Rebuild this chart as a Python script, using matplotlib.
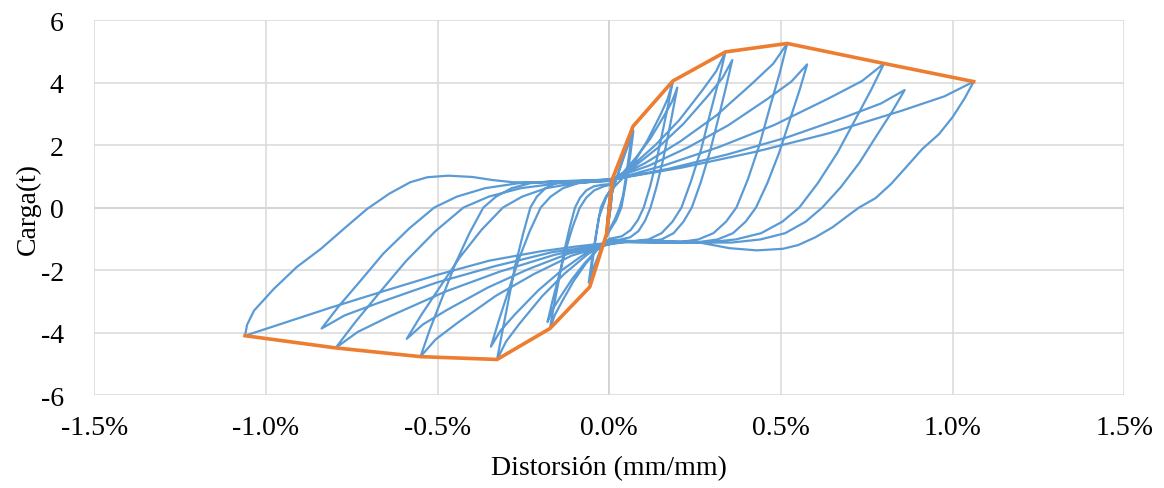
import numpy as np
import matplotlib.pyplot as plt
from matplotlib.ticker import FuncFormatter

plt.rcParams['font.family'] = ['Liberation Serif', 'DejaVu Serif']
plt.rcParams['axes.unicode_minus'] = False

# --- datos: (distorsion %, carga t) ---
ciclo_01 = [(0.0, 0.0), (0.005, 0.5), (0.012, 0.95), (0.008, 0.5), (0.004, 0.0), (0.0, -0.3),
            (-0.004, -0.6), (-0.008, -0.85), (-0.005, -0.4), (-0.002, 0.0), (0.0, 0.3)]
ciclo_02 = [(0.006, 0.6), (0.012, 0.9), (0.007, 0.4), (0.003, 0.0), (-0.003, -0.5), (-0.009, -0.8),
            (-0.005, -0.3), (0.0, 0.2)]
ciclo_03 = [(0.02, 0.9), (0.04, 1.6), (0.055, 2.1), (0.069, 2.6), (0.06, 1.9), (0.05, 1.1), (0.04, 0.4),
            (0.03, 0.0), (0.015, -0.4), (0.0, -0.7), (-0.02, -1.2), (-0.04, -1.9), (-0.057, -2.54),
            (-0.05, -1.8), (-0.04, -1.0), (-0.03, -0.3), (-0.02, 0.0), (-0.01, 0.3), (0.0, 0.5)]
ciclo_04 = [(0.02, 0.9), (0.045, 1.7), (0.07, 2.45), (0.06, 1.6), (0.045, 0.6), (0.035, 0.0), (0.02, -0.4),
            (0.0, -0.75), (-0.02, -1.2), (-0.045, -1.9), (-0.06, -2.4), (-0.05, -1.6), (-0.035, -0.6),
            (-0.025, 0.0), (-0.01, 0.35), (0.0, 0.5)]
ciclo_05 = [(0.037, 0.92), (0.074, 1.48), (0.111, 2.15), (0.148, 2.95), (0.17, 3.48), (0.185, 4.05),
            (0.172, 3.32), (0.155, 2.43), (0.138, 1.54), (0.119, 0.69), (0.1, 0.0), (0.083, -0.4),
            (0.062, -0.72), (0.036, -0.92), (0.0, -1.0),
            (-0.035, -1.34), (-0.069, -1.8), (-0.104, -2.35), (-0.138, -3.01), (-0.159, -3.44), (-0.173, -3.87),
            (-0.162, -3.17), (-0.147, -2.32), (-0.133, -1.47), (-0.116, -0.66), (-0.1, 0.0), (-0.085, 0.32),
            (-0.067, 0.55), (-0.045, 0.68), (-0.02, 0.73), (0.0, 0.75)]
ciclo_06 = [(0.04, 1.12), (0.079, 1.62), (0.119, 2.2), (0.158, 2.91), (0.182, 3.38), (0.198, 3.84),
            (0.186, 3.15), (0.171, 2.3), (0.155, 1.46), (0.137, 0.65), (0.12, 0.0), (0.104, -0.42),
            (0.085, -0.75), (0.061, -0.95), (0.03, -1.03), (0.0, -1.05),
            (-0.036, -1.36), (-0.072, -1.78), (-0.108, -2.28), (-0.144, -2.88), (-0.166, -3.27), (-0.18, -3.66),
            (-0.166, -3.0), (-0.147, -2.2), (-0.128, -1.39), (-0.107, -0.62), (-0.086, 0.0), (-0.067, 0.32),
            (-0.044, 0.55), (-0.016, 0.68), (0.0, 0.72)]
ciclo_07 = [(0.068, 1.35), (0.135, 2.01), (0.203, 2.79), (0.27, 3.74), (0.311, 4.36), (0.338, 4.98),
            (0.319, 4.08), (0.293, 2.99), (0.268, 1.89), (0.238, 0.85), (0.21, 0.0), (0.184, -0.45),
            (0.152, -0.82), (0.114, -1.02), (0.069, -1.08), (0.0, -1.05),
            (-0.065, -1.51), (-0.131, -2.12), (-0.196, -2.84), (-0.262, -3.72), (-0.301, -4.29), (-0.327, -4.86),
            (-0.312, -3.99), (-0.293, -2.92), (-0.274, -1.85), (-0.251, -0.83), (-0.23, 0.0), (-0.211, 0.35),
            (-0.186, 0.62), (-0.157, 0.78), (-0.123, 0.84), (-0.06, 0.85), (0.0, 0.85)]
ciclo_08 = [(0.072, 1.31), (0.143, 1.93), (0.215, 2.67), (0.286, 3.56), (0.329, 4.14), (0.358, 4.72),
            (0.34, 3.87), (0.317, 2.83), (0.293, 1.79), (0.266, 0.8), (0.24, 0.0), (0.216, -0.45),
            (0.187, -0.82), (0.152, -1.02), (0.11, -1.08), (0.0, -1.05),
            (-0.069, -1.46), (-0.138, -2.0), (-0.207, -2.65), (-0.276, -3.43), (-0.317, -3.94), (-0.345, -4.45),
            (-0.323, -3.65), (-0.294, -2.67), (-0.265, -1.69), (-0.232, -0.76), (-0.2, 0.0), (-0.171, 0.35),
            (-0.135, 0.62), (-0.091, 0.78), (-0.04, 0.84), (0.0, 0.85)]
ciclo_09 = [(0.104, 1.42), (0.207, 2.12), (0.311, 2.94), (0.414, 3.95), (0.477, 4.6), (0.518, 5.25),
            (0.496, 4.3), (0.466, 3.15), (0.437, 2.0), (0.403, 0.89), (0.37, 0.0), (0.34, -0.45),
            (0.303, -0.82), (0.259, -1.02), (0.207, -1.1), (0.1, -1.1), (0.02, -1.1),
            (-0.11, -1.54), (-0.22, -2.13), (-0.33, -2.82), (-0.44, -3.67), (-0.506, -4.22), (-0.55, -4.77),
            (-0.523, -3.91), (-0.486, -2.86), (-0.449, -1.81), (-0.407, -0.81), (-0.367, 0.0), (-0.33, 0.35),
            (-0.285, 0.62), (-0.23, 0.78), (-0.166, 0.84), (-0.08, 0.86), (0.0, 0.9)]
ciclo_10 = [(0.115, 1.34), (0.23, 1.93), (0.346, 2.63), (0.461, 3.48), (0.53, 4.03), (0.576, 4.58),
            (0.554, 3.76), (0.524, 2.75), (0.494, 1.74), (0.46, 0.78), (0.427, 0.0), (0.397, -0.45),
            (0.36, -0.82), (0.315, -1.02), (0.263, -1.1), (0.14, -1.1), (0.03, -1.1),
            (-0.118, -1.47), (-0.236, -1.97), (-0.354, -2.56), (-0.472, -3.27), (-0.543, -3.74), (-0.59, -4.2),
            (-0.548, -3.44), (-0.492, -2.52), (-0.436, -1.6), (-0.372, -0.71), (-0.31, 0.0), (-0.254, 0.35),
            (-0.184, 0.62), (-0.1, 0.78), (0.0, 0.86)]
ciclo_11 = [(0.16, 1.35), (0.32, 1.94), (0.48, 2.64), (0.64, 3.5), (0.736, 4.05), (0.8, 4.61),
            (0.763, 3.78), (0.714, 2.77), (0.664, 1.75), (0.607, 0.78), (0.553, 0.0), (0.504, -0.45),
            (0.442, -0.82), (0.368, -1.02), (0.281, -1.12), (0.15, -1.12), (0.02, -1.1),
            (-0.159, -1.51), (-0.319, -2.05), (-0.478, -2.69), (-0.638, -3.47), (-0.733, -3.98), (-0.797, -4.49),
            (-0.741, -3.68), (-0.667, -2.69), (-0.592, -1.71), (-0.507, -0.76), (-0.425, 0.0), (-0.351, 0.35),
            (-0.258, 0.62), (-0.146, 0.78), (-0.03, 0.84), (0.0, 0.88)]
ciclo_12 = [(0.172, 1.24), (0.344, 1.7), (0.516, 2.24), (0.688, 2.9), (0.791, 3.33), (0.86, 3.76),
            (0.824, 3.08), (0.776, 2.26), (0.728, 1.43), (0.673, 0.64), (0.62, 0.0), (0.572, -0.45),
            (0.512, -0.82), (0.44, -1.02), (0.356, -1.12), (0.2, -1.12), (0.05, -1.1),
            (-0.168, -1.43), (-0.335, -1.88), (-0.503, -2.4), (-0.67, -3.04), (-0.771, -3.45), (-0.838, -3.87),
            (-0.789, -3.17), (-0.723, -2.32), (-0.658, -1.47), (-0.582, -0.66), (-0.51, 0.0), (-0.444, 0.35),
            (-0.362, 0.62), (-0.264, 0.78), (-0.149, 0.84), (0.0, 0.88)]
ciclo_13 = [(0.212, 1.28), (0.424, 1.78), (0.637, 2.37), (0.849, 3.09), (0.976, 3.56), (1.061, 4.03),
            (1.035, 3.5), (1.0, 2.9), (0.96, 2.35), (0.911, 1.87), (0.865, 1.3), (0.82, 0.75), (0.775, 0.3),
            (0.727, 0.0), (0.69, -0.3), (0.65, -0.63), (0.6, -0.95), (0.55, -1.2), (0.505, -1.32),
            (0.43, -1.37), (0.35, -1.3), (0.263, -1.12), (0.117, -1.05), (0.02, -1.1),
            (-0.1, -1.25), (-0.2, -1.4), (-0.35, -1.7), (-0.5, -2.15), (-0.65, -2.65), (-0.811, -3.2),
            (-0.95, -3.7), (-1.061, -4.1), (-1.055, -3.75), (-1.035, -3.3), (-1.01, -3.0), (-0.977, -2.6),
            (-0.91, -1.9), (-0.84, -1.32), (-0.77, -0.65), (-0.705, -0.04), (-0.64, 0.45), (-0.58, 0.81),
            (-0.53, 0.97), (-0.47, 1.02), (-0.4, 0.98), (-0.34, 0.88), (-0.28, 0.81), (-0.15, 0.8), (0.0, 0.9)]

# envolvente
env_x = [-1.061, -0.797, -0.55, -0.327, -0.173, -0.057, -0.008, 0.0, 0.009, 0.069, 0.185, 0.338, 0.518, 0.8, 1.061]
env_y = [-4.10, -4.49, -4.77, -4.86, -3.87, -2.54, -0.84, 0.0, 0.92, 2.6, 4.05, 4.98, 5.25, 4.61, 4.03]

ciclos = [ciclo_01, ciclo_02, ciclo_03, ciclo_04, ciclo_05, ciclo_06, ciclo_07,
          ciclo_08, ciclo_09, ciclo_10, ciclo_11, ciclo_12, ciclo_13]
hist = np.array([p for c in ciclos for p in c])

fig, ax = plt.subplots(figsize=(11.64, 4.89), dpi=100)
fig.subplots_adjust(left=0.081, right=0.966, top=0.957, bottom=0.19)

ax.plot(hist[:, 0], hist[:, 1], color='#5B9BD5', lw=1.6, zorder=3, solid_joinstyle='round')
ax.plot(env_x, env_y, color='#ED7D31', lw=2.6, zorder=4, solid_joinstyle='round')

ax.set_xlim(-1.5, 1.5)
ax.set_ylim(-6, 6)
ax.set_xticks(np.arange(-1.5, 1.51, 0.5))
ax.set_yticks(np.arange(-6, 7, 2))
ax.xaxis.set_major_formatter(FuncFormatter(lambda v, p: f"{v:.1f}%"))
ax.grid(True, color='#D9D9D9', lw=1.1, zorder=0)
ax.axhline(0, color='#BFBFBF', lw=1.3, zorder=1)
ax.axvline(0, color='#BFBFBF', lw=1.3, zorder=1)
for s in ax.spines.values():
    s.set_visible(False)
ax.tick_params(length=0, labelsize=20, colors='black')
ax.tick_params(axis='x', pad=14)
ax.tick_params(axis='y', pad=22)

ax.set_xlabel("Distorsión (mm/mm)", fontsize=20)
ax.set_ylabel("Carga(t)", fontsize=20)
ax.xaxis.set_label_coords(0.5, -0.16)
ax.yaxis.set_label_coords(-0.052, 0.5)

plt.savefig("out.png", dpi=100)
